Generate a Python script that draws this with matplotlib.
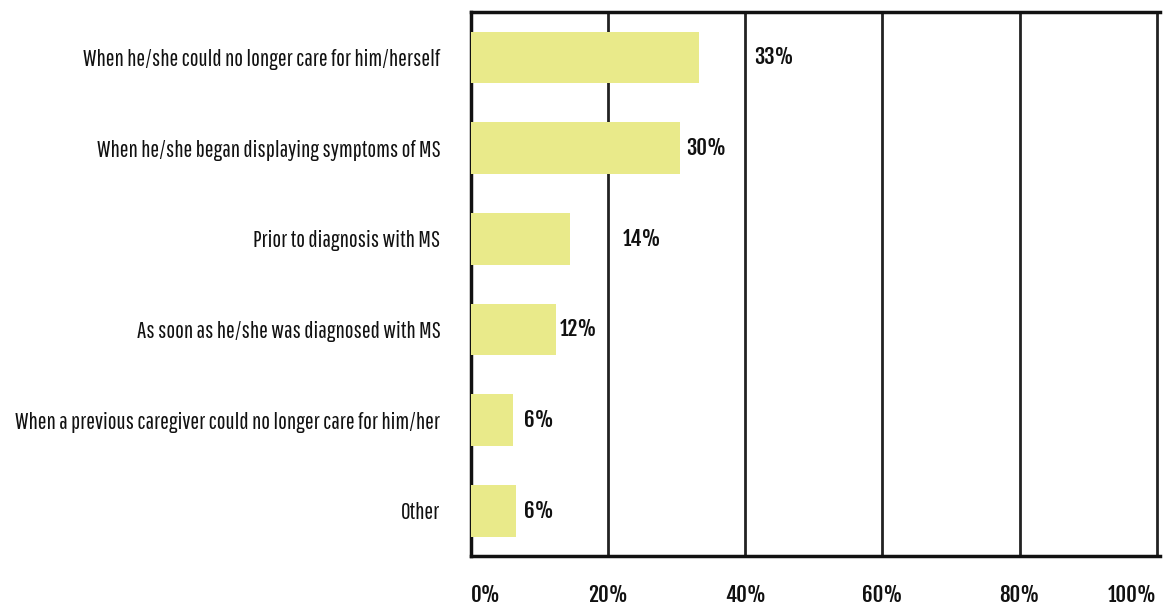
import matplotlib
matplotlib.use("Agg")
import matplotlib.pyplot as plt

# Survey answers, top to bottom
categories = [
    "When he/she could no longer care for him/herself",
    "When he/she began displaying symptoms of MS",
    "Prior to diagnosis with MS",
    "As soon as he/she was diagnosed with MS",
    "When a previous caregiver could no longer care for him/her",
    "Other",
]
values = [33.3, 30.5, 14.4, 12.4, 6.2, 6.5]
labels = ["33%", "30%", "14%", "12%", "6%", "6%"]
label_x = [41.3, 31.4, 22.2, 13, 7.8, 7.8]
xticks = [0, 20, 40, 60, 80, 100]
xtick_labels = ["0%", "20%", "40%", "60%", "80%", "100%"]

label_font = ["Pathway Gothic One", "DejaVu Sans"]
num_font = ["Fjalla One", "DejaVu Sans"]

fig = plt.figure(figsize=(11.73, 6.09), dpi=100)
ax = fig.add_axes([0.4015, 0.087, 0.5875, 0.893])

ypos = list(range(len(categories)))
ax.barh(ypos, values, height=0.57, color="#e9ea8a", zorder=3)
for y, lx, lab in zip(ypos, label_x, labels):
    ax.text(lx, y, lab, va="center", ha="left", fontsize=15,
            family=num_font, color="#111111", zorder=4)

ax.set_xlim(0, 100.5)
ax.set_ylim(5.5, -0.5)
ax.set_xticks(xticks)
ax.set_xticklabels(xtick_labels, fontsize=15, family=num_font, color="#111111")
tl = ax.get_xticklabels()
tl[0].set_ha("left")
tl[-1].set_ha("right")
ax.set_yticks(ypos)
ax.set_yticklabels(categories, fontsize=16.8, family=label_font, color="#111111")
ax.tick_params(axis="x", length=0, pad=20)
ax.tick_params(axis="y", length=0, pad=22)
ax.xaxis.grid(True, color="#222222", linewidth=2, zorder=1)
for s in ["left", "bottom", "top", "right"]:
    ax.spines[s].set_linewidth(2.5)
    ax.spines[s].set_color("#111111")
ax.spines["right"].set_visible(False)

fig.savefig("out.png", dpi=100)
